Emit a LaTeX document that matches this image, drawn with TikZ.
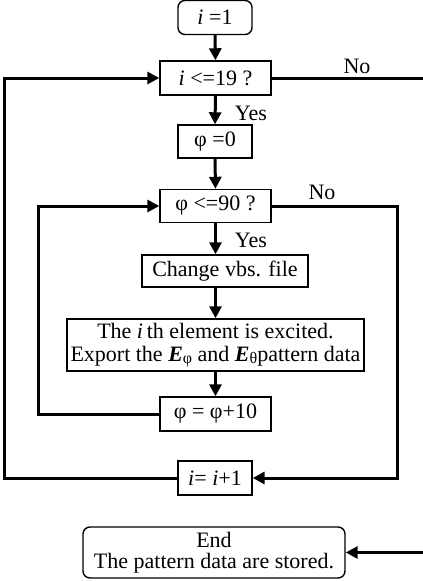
\documentclass[tikz,border=0pt]{standalone}
\usepackage{fontspec}
\setmainfont{Liberation Serif}
\usetikzlibrary{arrows.meta}

\tikzset{
    box/.style={draw=black, line width=1.4pt, inner sep=1pt, minimum height=34pt},
    rbox/.style={box, rounded corners=7pt},
    flow/.style={line width=3pt, -{Triangle[length=12pt,width=12pt]}},
    wire/.style={line width=3pt},
    lbl/.style={inner sep=0pt}
}
\newcommand{\sub}[1]{\raisebox{-0.25ex}{\fontsize{16}{16}\selectfont #1}}

\begin{document}
\begin{tikzpicture}[x=1pt,y=-1pt,font=\fontsize{22}{26}\selectfont]
        \useasboundingbox (0,0) rectangle (423,581);

        % boxes
        \node[rbox, minimum width=74pt] (start) at (215,17.5){\textit{i} =1};
        \node[box, minimum width=111pt] (ci) at (215.5,78){\textit{i} <=19 ?};
        \node[box, minimum width=74pt, minimum height=33pt] (phizero) at (215,141.5){φ =0};
        \node[box, minimum width=111pt, minimum height=33pt] (cphi) at (215.5,206){φ <=90 ?};
        \node[box, minimum width=166pt, minimum height=32pt] (vbs) at (225,271){Change vbs. file};
        \node[box, minimum width=297pt, minimum height=52pt, align=center] (excite) at (215.5,345)
              {The \textit{i}\,th element is excited.\\[-3pt]
               Export the \textbf{\textit{E}}\sub{φ} and \textbf{\textit{E}}\sub{θ}pattern data};
        \node[box, minimum width=111pt] (incphi) at (215.5,414){φ = φ+10};
        \node[box, minimum width=74pt] (inci) at (215,478){\textit{i}= \textit{i}+1};
        \node[rbox, minimum width=262pt, minimum height=51pt, align=center] (stop) at (214,552.5)
              {End\\[-5pt] The pattern data are stored.};

        % loop corners
        \coordinate (outL) at (4,478);
        \coordinate (innL) at (38,414);
        \coordinate (innR) at (397,206);
        \coordinate (outR) at (423,78);
        \coordinate (endR) at (423,552.5);

        % main line
        \draw[flow] (start.south) -- (ci.north);
        \draw[flow] (ci.south) -- (phizero.north);
        \draw[flow] (phizero.south) -- (cphi.north);
        \draw[flow] (cphi.south) -- (cphi.south |- vbs.north);
        \draw[flow] (cphi.south |- vbs.south) -- (excite.north -| cphi.south);
        \draw[flow] (excite.south) -- (incphi.north);

        % loops
        \draw[flow] (incphi.west) -- (innL) |- (cphi.west);
        \draw[flow] (inci.west) -- (outL) |- (ci.west);
        \draw[flow] (cphi.east) -- (innR) |- (inci.east);
        \draw[wire] (ci.east) -- (outR);
        \draw[flow] (endR) -- (stop.east);

        % labels
        \node[lbl] (no1) at (357,66){No};
        \node[lbl] (yes1) at (251,113){Yes};
        \node[lbl] (no2) at (322,192){No};
        \node[lbl] (yes2) at (251,240){Yes};

\end{tikzpicture}
\end{document}
